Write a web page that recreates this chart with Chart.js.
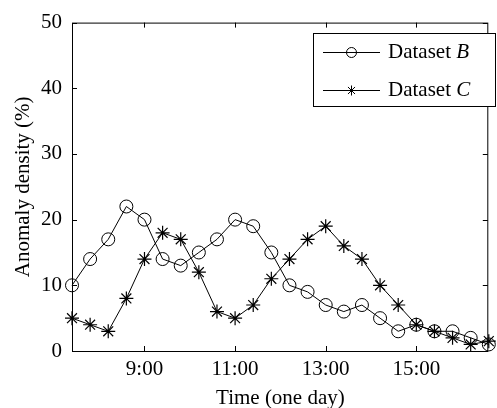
<!DOCTYPE html>
<html lang="en">
<head>
  <meta charset="UTF-8">
  <title>Anomaly density</title>
  <script src="https://cdn.jsdelivr.net/npm/chart.js"></script>
  <style>
    body {
      margin: 0;
      background-color: #fff;
    }
    canvas {
      display: block;
    }
  </style>
</head>
<body>

<canvas id="densityChart" width="497" height="408"></canvas>

<script>
  // time of day, one sample every 24 minutes
  const times = ['7:24', '7:48', '8:12', '8:36', '9:00', '9:24', '9:48', '10:12', '10:36', '11:00', '11:24', '11:48',
                 '12:12', '12:36', '13:00', '13:24', '13:48', '14:12', '14:36', '15:00', '15:24', '15:48', '16:12', '16:36'];
  const tickLabels = ['9:00', '11:00', '13:00', '15:00'];
  const yTicks = [0, 10, 20, 30, 40, 50];

  const datasetB = [10, 14, 17, 22, 20, 14, 13, 15, 17, 20, 19, 15, 10, 9, 7, 6, 7, 5, 3, 4, 3, 3, 2, 1];
  const datasetC = [5, 4, 3, 8, 14, 18, 17, 12, 6, 5, 7, 11, 14, 17, 19, 16, 14, 10, 7, 4, 3, 2, 1, 1.5];

  const seriesNames = ['Dataset', 'Dataset'];
  const seriesLetters = ['B', 'C'];
  const seriesStyles = ['circle', 'star'];

  const FONT = 'Liberation Serif, Times New Roman, serif';

  function drawMarker(ctx, style, x, y, r) {
    ctx.beginPath();
    if (style === 'circle') {
      ctx.arc(x, y, r, 0, Math.PI * 2);
    } else {
      for (let k = 0; k < 4; k++) {
        const a = k * Math.PI / 4;
        ctx.moveTo(x - r * Math.cos(a), y - r * Math.sin(a));
        ctx.lineTo(x + r * Math.cos(a), y + r * Math.sin(a));
      }
    }
    ctx.stroke();
  }

  // frame, inward ticks and legend box
  const framePlugin = {
    id: 'frame',
    afterDraw(chart) {
      const ctx = chart.ctx;
      const a = chart.chartArea;
      const xs = chart.scales.x;
      const ys = chart.scales.y;
      ctx.save();
      ctx.strokeStyle = '#000';
      ctx.lineWidth = 1;
      ctx.strokeRect(a.left + 0.5, a.top + 0.5, a.right - a.left - 1.5, a.bottom - a.top);

      ctx.beginPath();
      yTicks.forEach(v => {
        const y = Math.round(ys.getPixelForValue(v)) + 0.5;
        ctx.moveTo(a.left, y); ctx.lineTo(a.left + 5, y);
        ctx.moveTo(a.right - 1, y); ctx.lineTo(a.right - 6, y);
      });
      tickLabels.forEach(t => {
        const x = Math.round(xs.getPixelForValue(times.indexOf(t))) + 0.5;
        ctx.moveTo(x, a.bottom); ctx.lineTo(x, a.bottom - 5);
        ctx.moveTo(x, a.top); ctx.lineTo(x, a.top + 5);
      });
      ctx.stroke();

      // legend
      const lx = 313.5, ly = 33.5, lw = 182, lh = 73;
      ctx.fillStyle = '#fff';
      ctx.fillRect(lx, ly, lw, lh);
      ctx.strokeRect(lx, ly, lw, lh);
      const rows = [52, 90];
      ctx.font = '21px ' + FONT;
      ctx.textBaseline = 'middle';
      ctx.fillStyle = '#000';
      rows.forEach((ry, i) => {
        ctx.beginPath();
        ctx.moveTo(323, ry + 0.5); ctx.lineTo(380, ry + 0.5);
        ctx.stroke();
        drawMarker(ctx, seriesStyles[i], 351.5, ry + 0.5, 5);
        ctx.font = '21px ' + FONT;
        const txt = seriesNames[i] + ' ';
        ctx.fillText(txt, 388, ry);
        const w = ctx.measureText(txt).width;
        ctx.font = 'italic 21px ' + FONT;
        ctx.fillText(seriesLetters[i], 388 + w, ry);
      });
      ctx.restore();
    }
  };

  const ctxChart = document.getElementById('densityChart').getContext('2d');

  new Chart(ctxChart, {
    type: 'line',
    data: {
      labels: times,
      datasets: [
        {
          label: seriesNames[0] + ' ' + seriesLetters[0],
          data: datasetB,
          borderColor: '#000',
          borderWidth: 1,
          backgroundColor: 'rgba(0,0,0,0)',
          pointStyle: 'circle',
          pointRadius: 6.5,
          pointBorderWidth: 1,
          pointBorderColor: '#000',
          pointBackgroundColor: 'rgba(0,0,0,0)',
          tension: 0,
          clip: false
        },
        {
          label: seriesNames[1] + ' ' + seriesLetters[1],
          data: datasetC,
          borderColor: '#000',
          borderWidth: 1,
          backgroundColor: 'rgba(0,0,0,0)',
          pointStyle: 'star',
          pointRadius: 7,
          pointBorderWidth: 1.2,
          pointBorderColor: '#000',
          tension: 0,
          clip: false
        }
      ]
    },
    options: {
      responsive: false,
      animation: false,
      devicePixelRatio: 1,
      layout: { padding: { top: 18, right: 0, left: 0, bottom: 0 } },
      plugins: {
        legend: { display: false },
        tooltip: { enabled: false }
      },
      scales: {
        x: {
          type: 'category',
          offset: false,
          grid: { display: false, drawTicks: false },
          border: { display: false },
          ticks: {
            autoSkip: false,
            maxRotation: 0,
            padding: 6,
            color: '#000',
            font: { family: FONT, size: 21 },
            callback: function (v, i) {
              const t = times[i];
              return tickLabels.includes(t) ? t : null;
            }
          },
          title: {
            display: true,
            text: 'Time (one day)',
            color: '#000',
            font: { family: FONT, size: 21, lineHeight: 1 },
            padding: { top: 0, bottom: -1 }
          },
          afterFit: s => { s.height = 57; }
        },
        y: {
          min: 0,
          max: 50,
          grid: { display: false, drawTicks: false },
          border: { display: false },
          afterBuildTicks: s => { s.ticks = yTicks.map(v => ({ value: v })); },
          ticks: {
            padding: 10,
            color: '#000',
            font: { family: FONT, size: 21 }
          },
          title: {
            display: true,
            text: 'Anomaly density (%)',
            color: '#000',
            font: { family: FONT, size: 21, lineHeight: 1 },
            padding: { top: 13, bottom: 0 }
          },
          afterFit: s => { s.width = 72; }
        }
      }
    },
    plugins: [framePlugin]
  });
</script>

</body>
</html>
